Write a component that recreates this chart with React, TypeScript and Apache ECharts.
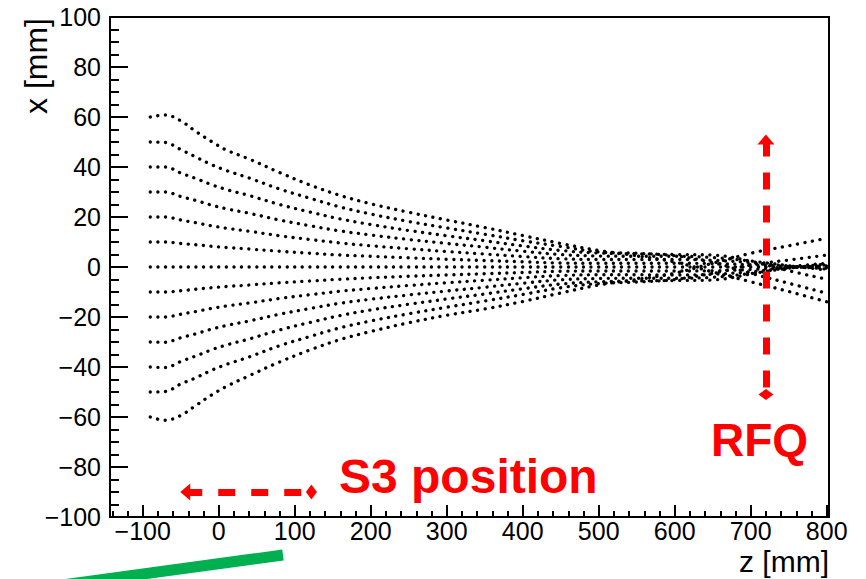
import React, { useEffect, useRef } from 'react';
import * as echarts from 'echarts';

// z positions (mm) at which the trajectories were read
const zPositions = [-90, -70, -50, -30, -10, 10, 40, 80, 120, 160, 200, 250, 300, 350, 400, 450, 500, 550, 600, 650, 700, 750, 800];

// transverse position x (mm) of each trajectory, named by its starting offset
const trackP60 = [60, 60.8, 58.5, 54.2, 50.3, 46.8, 43.2, 37.8, 32.8, 28.6, 25.3, 21.9, 18.8, 15.8, 12.6, 9.4, 6.6, 4.5, 2.0, -2.0, -5.9, -9.8, -13.9];
const trackP50 = [50, 49.8, 47.0, 44.0, 41.0, 38.6, 35.6, 31.2, 27.5, 24.0, 21.2, 18.2, 15.6, 13.1, 10.5, 8.2, 6.0, 5.5, 4.5, 1.8, -2.5, -6.5, -10.5];
const trackP40 = [40, 40.0, 37.6, 35.4, 33.0, 31.0, 28.6, 25.0, 22.0, 19.2, 17.0, 14.6, 12.5, 10.5, 8.4, 6.6, 5.6, 5.3, 5.0, 4.8, 2.3, -1.5, -4.9];
const trackP30 = [30, 30.0, 28.2, 26.6, 24.8, 23.3, 21.5, 18.8, 16.5, 14.4, 12.8, 11.0, 9.4, 7.9, 6.3, 5.0, 4.4, 4.3, 4.3, 3.8, 2.4, 0.5, -1.2];
const trackP20 = [20, 20.0, 18.8, 17.7, 16.5, 15.5, 14.3, 12.5, 11.0, 9.6, 8.5, 7.3, 6.2, 5.2, 4.2, 3.3, 3.0, 3.0, 3.0, 2.7, 1.8, 0.4, -0.8];
const trackP10 = [10, 10.0, 9.4, 8.9, 8.3, 7.8, 7.2, 6.3, 5.5, 4.8, 4.3, 3.7, 3.1, 2.6, 2.1, 1.6, 1.5, 1.5, 1.5, 1.4, 0.9, 0.2, -0.4];
const track0 = [0, 0, 0, 0, 0, 0, 0, 0, 0, 0, 0, 0, 0, 0, 0, 0, 0, 0, 0, 0, 0, 0, 0];
const trackM10 = [-10, -10.0, -9.5, -8.9, -8.3, -7.8, -7.2, -6.3, -5.6, -4.9, -4.3, -3.7, -3.2, -2.7, -2.2, -1.7, -1.6, -1.6, -1.6, -1.5, -1.0, -0.2, 0.4];
const trackM20 = [-20, -20.0, -18.9, -17.8, -16.6, -15.6, -14.4, -12.6, -11.1, -9.7, -8.6, -7.4, -6.3, -5.3, -4.3, -3.4, -3.1, -3.1, -3.2, -2.9, -1.9, -0.4, 0.8];
const trackM30 = [-30, -30.1, -28.3, -26.7, -24.9, -23.4, -21.6, -18.9, -16.6, -14.5, -12.9, -11.2, -9.6, -8.1, -6.5, -5.1, -4.6, -4.5, -4.5, -4.1, -2.6, -0.5, 1.2];
const trackM40 = [-40, -40.2, -37.8, -35.6, -33.2, -31.2, -28.8, -25.2, -22.2, -19.4, -17.2, -14.9, -12.8, -10.8, -8.7, -6.8, -5.9, -5.6, -5.4, -5.2, -2.8, 0.0, 1.5];
const trackM50 = [-50, -49.8, -46.8, -44.3, -41.4, -39.0, -36.0, -31.5, -27.8, -24.3, -21.6, -18.7, -16.1, -13.6, -11.0, -8.3, -6.6, -6.0, -5.0, -2.5, 0.8, 2.8, 4.8];
const trackM60 = [-60, -61.3, -59.4, -55.4, -51.3, -47.8, -43.5, -38.0, -33.2, -29.0, -25.8, -22.3, -19.3, -16.8, -13.8, -10.4, -7.2, -5.0, -2.5, 1.5, 5.5, 8.5, 11.5];

const tracks = [trackP60, trackP50, trackP40, trackP30, trackP20, trackP10, track0, trackM10, trackM20, trackM30, trackM40, trackM50, trackM60];

// axes
const zMin = -143;
const zMax = 803;
const xMajorTicks = [-100, 0, 100, 200, 300, 400, 500, 600, 700, 800];
const xMinorTicks = [-140, -120, -80, -60, -40, -20, 20, 40, 60, 80, 120, 140, 160, 180, 220, 240, 260, 280, 320, 340, 360, 380, 420, 440, 460, 480, 520, 540, 560, 580, 620, 640, 660, 680, 720, 740, 760, 780];

// annotations (data coordinates)
const s3Arrow = { from: [-44, -90], to: [122, -90] };
const rfqArrow = { from: [720, 51], to: [720, -51] };

const fmt = (v: number) => (v < 0 ? '\u2212' + Math.abs(v) : String(v));
const FONT = '"Liberation Sans", Arial, Helvetica, sans-serif';

export default function App() {
  const ref = useRef<HTMLDivElement>(null);
  useEffect(() => {
    if (!ref.current) return;
    const chart = echarts.init(ref.current, undefined, { renderer: 'svg' });
    const red = '#ff0000';
    const trackSeries: any[] = tracks.map((t, k) => ({
      type: 'line',
      name: 'track' + k,
      data: zPositions.map((z, i) => [z, t[i]]),
      showSymbol: false,
      smooth: 0.35,
      silent: true,
      lineStyle: { color: '#000', width: 3.3, type: [0.1, 7.5], cap: 'round' },
      z: 2,
    }));
    trackSeries.push({
      type: 'line',
      name: 'annotations',
      data: [],
      silent: true,
      z: 5,
      markLine: {
        silent: true,
        animation: false,
        label: { show: false },
        lineStyle: { color: red, width: 7, type: [17, 16], cap: 'butt', opacity: 1 },
        emphasis: { disabled: true },
        data: [
          [
            { coord: s3Arrow.from, symbol: 'triangle', symbolSize: [17, 10], itemStyle: { color: red } },
            { coord: s3Arrow.to, symbol: 'diamond', symbolSize: [15, 11], itemStyle: { color: red } },
          ],
          [
            { coord: rfqArrow.from, symbol: 'triangle', symbolSize: [17, 10], itemStyle: { color: red } },
            { coord: rfqArrow.to, symbol: 'diamond', symbolSize: [15, 11], itemStyle: { color: red } },
          ],
        ],
      },
    });

    chart.setOption({
      animation: false,
      backgroundColor: '#fff',
      grid: { left: 110, right: 37, top: 17, bottom: 62, show: true, borderColor: '#000', borderWidth: 2, containLabel: false },
      xAxis: [
        {
          type: 'value',
          min: zMin,
          max: zMax,
          position: 'bottom',
          axisLine: { show: true, onZero: false, lineStyle: { color: '#000', width: 2 } },
          axisTick: { show: true, inside: true, length: 12, lineStyle: { color: '#000', width: 2 }, customValues: xMajorTicks },
          axisLabel: { show: true, margin: 3, fontSize: 25, lineHeight: 22, fontFamily: FONT, color: '#000', customValues: xMajorTicks, formatter: fmt },
          splitLine: { show: false },
        },
        {
          type: 'value',
          min: zMin,
          max: zMax,
          position: 'bottom',
          offset: 0,
          axisLine: { show: false, onZero: false },
          axisTick: { show: true, inside: true, length: 6, lineStyle: { color: '#000', width: 2 }, customValues: xMinorTicks },
          axisLabel: { show: false },
          splitLine: { show: false },
        },
      ],
      yAxis: {
        type: 'value',
        min: -100,
        max: 100,
        interval: 20,
        position: 'left',
        axisLine: { show: true, onZero: false, lineStyle: { color: '#000', width: 2 } },
        axisTick: { show: true, inside: true, length: 18, lineStyle: { color: '#000', width: 2 } },
        minorTick: { show: true, splitNumber: 4, length: 9, lineStyle: { color: '#000', width: 2 } },
        axisLabel: { margin: 9, fontSize: 25, fontFamily: FONT, color: '#000', formatter: fmt, padding: [5, 0, 0, 0] },
        splitLine: { show: false },
        minorSplitLine: { show: false },
      },
      series: trackSeries,
      graphic: [
        {
          type: 'line',
          silent: true,
          shape: { x1: 40, y1: 588, x2: 283, y2: 555 },
          style: { stroke: '#00b050', lineWidth: 11, lineCap: 'butt' },
          z: 10,
        },
        {
          type: 'text',
          x: 52,
          y: 18,
          rotation: Math.PI / 2,
          silent: true,
          style: {
            text: 'x [mm]',
            fill: '#000',
            font: '32px ' + FONT,
            align: 'right',
            verticalAlign: 'bottom',
            textAlign: 'right',
            textVerticalAlign: 'bottom',
          },
        },
        {
          type: 'text',
          x: 829,
          y: 576,
          silent: true,
          style: {
            text: 'z [mm]',
            fill: '#000',
            font: '30px ' + FONT,
            lineHeight: 30,
            align: 'right',
            verticalAlign: 'bottom',
            textAlign: 'right',
            textVerticalAlign: 'bottom',
          },
        },
        {
          type: 'text',
          x: 339,
          y: 476,
          silent: true,
          style: {
            text: 'S3 position',
            fill: red,
            font: 'bold 48px ' + FONT,
            align: 'left',
            verticalAlign: 'middle',
            textAlign: 'left',
            textVerticalAlign: 'middle',
          },
        },
        {
          type: 'text',
          x: 711,
          y: 440,
          silent: true,
          style: {
            text: 'RFQ',
            fill: red,
            font: 'bold 46px ' + FONT,
            align: 'left',
            verticalAlign: 'middle',
            textAlign: 'left',
            textVerticalAlign: 'middle',
          },
        },
      ],
    });
    return () => chart.dispose();
  }, []);
  return <div ref={ref} style={{ position: 'fixed', left: 0, top: 0, width: 866, height: 579, background: '#fff' }} />;
}
